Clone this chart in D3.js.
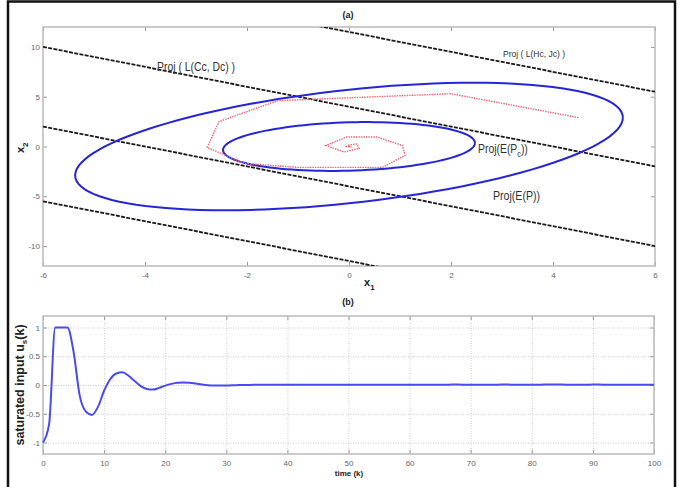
<!doctype html>
<html lang="en">
<head>
  <meta charset="UTF-8">
  <title>Projections and saturated input</title>
<style>
  body{ margin:0; background:#fff; }
  svg{ font-family: "Liberation Sans", Arial, sans-serif; }
  .tick text{ font-size: 8px; fill: #666; }
  .tick line{ stroke: #999; }
  .domain{ display: none; }
  .grid line{ stroke: #ccc; stroke-dasharray: 1,1.5; }
  .box{ fill: none; stroke: #bbb; stroke-width: 1.5px; }
  .bold{ font-weight: bold; fill: #222; }
  .note{ fill: #333; }
</style>
</head>

<body>
<script src="https://d3js.org/d3.v7.min.js"></script>

<script>
// ---- panel (a): state-space projections ----
var xTicksA = [-6, -4, -2, 0, 2, 4, 6];
var yTicksA = [-10, -5, 0, 5, 10];

// level-set lines x2 = offset - x1 (dashed)
var lineOffsets = [11.5, 4, -4, -11.5];
var lineSlope = -1;

// ellipses: rightmost x, x2 at rightmost point, top x2
var ellipseNames = ["Proj(E(P))", "Proj(E(Pc))"];
var ellipseXmax = [5.37, 2.47];
var ellipseYatXmax = [2.9, 0.35];
var ellipseYmax = [6.4, 2.45];

// trajectory (red dotted)
var trajX1 = [4.5, 2.0, -1.4, -2.55, -2.78, -2.05, -1.0, 0.65, 1.1, 1.05, 0.55, -0.05, -0.45, -0.1, 0.2, 0.15, 0.0, -0.05, 0.05, 0.0];
var trajX2 = [2.9, 5.3, 4.6, 2.5, -0.1, -1.7, -2.1, -2.1, -0.9, 0.1, 0.95, 0.95, 0.1, -0.55, -0.2, 0.25, 0.15, 0.0, -0.05, 0.0];

// ---- panel (b): saturated input ----
var timeK = d3.range(0, 101);
var uSat = [-1, -0.68, 1, 1, 1, 0.58, -0.18, -0.46, -0.52, -0.38,
  -0.1, 0.1, 0.2, 0.22, 0.16, 0.07, -0.02, -0.07, -0.08, -0.05,
  -0.01, 0.02, 0.04, 0.045, 0.04, 0.025, 0.008, -0.005, -0.01, -0.01,
  -0.008, -0.005, -0.002, 0, 0.002, 0.003, 0.004, 0.004, 0.004, 0.003,
  0.003, 0.003, 0.004, 0.005, 0.005, 0.005, 0.004, 0.003, 0.003, 0.004,
  0.005, 0.006, 0.006, 0.005, 0.004, 0.003, 0.003, 0.004, 0.005, 0.006,
  0.006, 0.006, 0.005, 0.004, 0.004, 0.005, 0.006, 0.007, 0.007, 0.006,
  0.005, 0.004, 0.004, 0.005, 0.006, 0.007, 0.007, 0.006, 0.006, 0.005,
  0.005, 0.006, 0.007, 0.008, 0.008, 0.007, 0.006, 0.005, 0.005, 0.006,
  0.007, 0.007, 0.006, 0.005, 0.004, 0.004, 0.005, 0.006, 0.006, 0.005, 0.005];
var xTicksB = d3.range(0, 101, 10);
var yTicksB = [-1, -0.5, 0, 0.5, 1];

var plain = function(d){ return String(d); };

var svg = d3.select("body").append("svg")
    .attr("width", 680)
    .attr("height", 487);

// outer frame
svg.append("rect")
    .attr("x", 8).attr("y", 1.5)
    .attr("width", 667).attr("height", 500)
    .attr("fill", "none")
    .attr("stroke", "#111")
    .attr("stroke-width", 2.5);

// ===== panel (a) =====
var ax = {left: 43, right: 655, top: 27, bottom: 266};
var xA = d3.scaleLinear().domain([-6, 6]).range([ax.left, ax.right]);
var yA = d3.scaleLinear().domain([-12, 12]).range([ax.bottom, ax.top]);

svg.append("defs").append("clipPath").attr("id", "clipA")
  .append("rect")
    .attr("x", ax.left).attr("y", ax.top)
    .attr("width", ax.right - ax.left).attr("height", ax.bottom - ax.top);

svg.append("g")
    .attr("transform", "translate(0," + ax.bottom + ")")
    .call(d3.axisBottom(xA).tickValues(xTicksA).tickFormat(plain).tickSizeInner(-4).tickSizeOuter(0).tickPadding(6));
svg.append("g")
    .attr("transform", "translate(0," + ax.top + ")")
    .call(d3.axisTop(xA).tickValues(xTicksA).tickSizeInner(-4).tickSizeOuter(0).tickFormat(""));
svg.append("g")
    .attr("transform", "translate(" + ax.left + ",0)")
    .call(d3.axisLeft(yA).tickValues(yTicksA).tickFormat(plain).tickSizeInner(-4).tickSizeOuter(0).tickPadding(3));
svg.append("g")
    .attr("transform", "translate(" + ax.right + ",0)")
    .call(d3.axisRight(yA).tickValues(yTicksA).tickSizeInner(-4).tickSizeOuter(0).tickFormat(""));

svg.append("rect").attr("class", "box")
    .attr("x", ax.left).attr("y", ax.top)
    .attr("width", ax.right - ax.left).attr("height", ax.bottom - ax.top);

var plotA = svg.append("g").attr("clip-path", "url(#clipA)");

// dashed lines
plotA.selectAll(".lvl")
    .data(lineOffsets)
  .enter().append("line")
    .attr("class", "lvl")
    .attr("x1", xA(-6)).attr("y1", function(c){ return yA(c + lineSlope * -6); })
    .attr("x2", xA(6)).attr("y2", function(c){ return yA(c + lineSlope * 6); })
    .attr("stroke", "#1a1a1a")
    .attr("stroke-width", 1.8)
    .attr("stroke-dasharray", "4,1.3");

// ellipses
var ang = d3.range(0, 361, 3).map(function(d){ return d * Math.PI / 180; });
var ellLine = d3.line()
    .x(function(d){ return xA(d[0]); })
    .y(function(d){ return yA(d[1]); });

plotA.selectAll(".ell")
    .data(ellipseNames)
  .enter().append("path")
    .attr("class", "ell")
    .attr("fill", "none")
    .attr("stroke", "#2626d6")
    .attr("stroke-width", 2)
    .attr("d", function(n, i){
      var a = ellipseXmax[i], b = ellipseYatXmax[i];
      var c = Math.sqrt(ellipseYmax[i] * ellipseYmax[i] - b * b);
      return ellLine(ang.map(function(t){ return [a * Math.cos(t), b * Math.cos(t) + c * Math.sin(t)]; }));
    });

// trajectory
plotA.append("path")
    .datum(d3.zip(trajX1, trajX2))
    .attr("fill", "none")
    .attr("stroke", "#f06a78")
    .attr("stroke-width", 1.4)
    .attr("stroke-dasharray", "1.5,1")
    .attr("d", ellLine);

// notes
function note(txt, x, y, size, len){
  svg.append("text").attr("class", "note")
      .attr("x", x).attr("y", y)
      .style("font-size", size + "px")
      .attr("textLength", len)
      .attr("lengthAdjust", "spacingAndGlyphs")
      .text(txt);
}
note("Proj ( L(Cc, Dc) )", 157, 71, 12, 78);
note("Proj ( L(Hc, Jc) )", 503, 57, 9, 62);
note("Proj(E(P))", 493, 200, 13, 47);

var pc = svg.append("text").attr("class", "note")
    .attr("transform", "translate(478,153) scale(0.8,1)")
    .style("font-size", "13px");
pc.append("tspan").text("Proj(E(P");
pc.append("tspan").attr("dy", 4).style("font-size", "9px").text("c");
pc.append("tspan").attr("dy", -4).text("))");

svg.append("text").attr("class", "bold")
    .attr("x", 348).attr("y", 18)
    .attr("text-anchor", "middle")
    .style("font-size", "9px")
    .text("(a)");

var xl = svg.append("text").attr("class", "bold")
    .attr("x", 364).attr("y", 286)
    .style("font-size", "11px");
xl.append("tspan").text("x");
xl.append("tspan").attr("dy", 4).style("font-size", "8px").text("1");

var yl = svg.append("text").attr("class", "bold")
    .attr("transform", "translate(24,153) rotate(-90)")
    .style("font-size", "11px");
yl.append("tspan").text("x");
yl.append("tspan").attr("dy", 4).style("font-size", "8px").text("2");

// ===== panel (b) =====
var bx = {left: 43, right: 654, top: 316, bottom: 454};
var xB = d3.scaleLinear().domain([0, 100]).range([bx.left, bx.right]);
var yB = d3.scaleLinear().domain([-1.2, 1.2]).range([bx.bottom, bx.top]);

svg.append("g").attr("class", "grid")
    .attr("transform", "translate(0," + bx.bottom + ")")
    .call(d3.axisBottom(xB).tickValues(xTicksB).tickSize(-(bx.bottom - bx.top)).tickFormat(""));
svg.append("g").attr("class", "grid")
    .attr("transform", "translate(" + bx.left + ",0)")
    .call(d3.axisLeft(yB).tickValues(yTicksB).tickSize(-(bx.right - bx.left)).tickFormat(""));

svg.append("g")
    .attr("transform", "translate(0," + bx.bottom + ")")
    .call(d3.axisBottom(xB).tickValues(xTicksB).tickFormat(plain).tickSizeInner(-4).tickSizeOuter(0).tickPadding(6));
svg.append("g")
    .attr("transform", "translate(0," + bx.top + ")")
    .call(d3.axisTop(xB).tickValues(xTicksB).tickSizeInner(-4).tickSizeOuter(0).tickFormat(""));
svg.append("g")
    .attr("transform", "translate(" + bx.left + ",0)")
    .call(d3.axisLeft(yB).tickValues(yTicksB).tickFormat(plain).tickSizeInner(-4).tickSizeOuter(0).tickPadding(3));
svg.append("g")
    .attr("transform", "translate(" + bx.right + ",0)")
    .call(d3.axisRight(yB).tickValues(yTicksB).tickSizeInner(-4).tickSizeOuter(0).tickFormat(""));

svg.append("rect").attr("class", "box")
    .attr("x", bx.left).attr("y", bx.top)
    .attr("width", bx.right - bx.left).attr("height", bx.bottom - bx.top);

var uLine = d3.line()
    .curve(d3.curveMonotoneX)
    .x(function(d, i){ return xB(timeK[i]); })
    .y(function(d){ return yB(d); });

svg.append("path")
    .datum(uSat)
    .attr("fill", "none")
    .attr("stroke", "#4a4af0")
    .attr("stroke-width", 2)
    .attr("d", uLine);

svg.append("text").attr("class", "bold")
    .attr("x", 348).attr("y", 305)
    .attr("text-anchor", "middle")
    .style("font-size", "9px")
    .text("(b)");

svg.append("text").attr("class", "bold")
    .attr("x", 349).attr("y", 476)
    .attr("text-anchor", "middle")
    .style("font-size", "8px")
    .text("time (k)");

var ul = svg.append("text").attr("class", "bold")
    .attr("transform", "translate(24,385) rotate(-90)")
    .attr("text-anchor", "middle")
    .style("font-size", "12.5px");
ul.append("tspan").text("saturated input u");
ul.append("tspan").attr("dy", 3).style("font-size", "8px").text("s");
ul.append("tspan").attr("dy", -3).text("(k)");

</script>
</body>
</html>
